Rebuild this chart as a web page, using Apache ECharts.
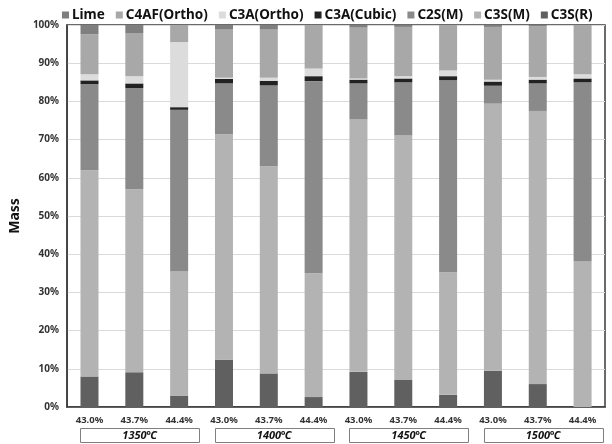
<!DOCTYPE html>
<html>
<head>
<meta charset="utf-8">
<script src="https://cdn.jsdelivr.net/npm/echarts@6/dist/echarts.min.js"></script>
<style>
  html, body { margin: 0; padding: 0; background: #fff; }
  #chart { width: 612px; height: 444px; }
</style>
</head>
<body>
<div id="chart"></div>
<script>
// Clinker phase composition by firing temperature and CaO content
const temperatures = ['1350℃', '1400℃', '1450℃', '1500℃'];
const contents = ['43.0%', '43.7%', '44.4%'];
const yTicks = [0, 10, 20, 30, 40, 50, 60, 70, 80, 90, 100];

// phase amounts (mass %), one value per bar, left to right
const lime      = [2.4, 2.1, 0.0, 1.2, 1.2, 0.0, 0.7, 0.5, 0.0, 0.5, 0.3, 0.0];
const c4afOrtho = [10.5, 11.3, 4.5, 12.6, 12.6, 11.4, 13.3, 12.9, 11.9, 13.8, 13.3, 12.9];
const c3aOrtho  = [1.6, 1.9, 17.0, 0.3, 0.8, 2.0, 0.3, 0.6, 1.5, 0.5, 0.7, 1.1];
const c3aCubic  = [1.0, 1.2, 0.7, 1.2, 1.2, 1.3, 1.0, 1.0, 1.1, 1.1, 1.0, 1.0];
const c2sM      = [22.5, 26.5, 42.3, 13.3, 21.2, 50.3, 9.4, 13.9, 50.2, 4.7, 7.2, 46.9];
const c3sM      = [54.0, 47.9, 32.5, 59.0, 54.2, 32.4, 66.1, 64.0, 32.1, 69.9, 71.5, 38.1];
const c3sR      = [8.0, 9.1, 3.0, 12.4, 8.8, 2.6, 9.2, 7.1, 3.2, 9.5, 6.0, 0.0];

const categories = [];
temperatures.forEach(t => contents.forEach(c => categories.push(t + '|' + c)));

// stacked bottom to top
const phases = [
  { name: 'C3S(R)',      data: c3sR,      color: '#606060' },
  { name: 'C3S(M)',      data: c3sM,      color: '#b3b3b3' },
  { name: 'C2S(M)',      data: c2sM,      color: '#8a8a8a' },
  { name: 'C3A(Cubic)',  data: c3aCubic,  color: '#222222' },
  { name: 'C3A(Ortho)',  data: c3aOrtho,  color: '#dcdcdc' },
  { name: 'C4AF(Ortho)', data: c4afOrtho, color: '#a8a8a8' },
  { name: 'Lime',        data: lime,      color: '#7f7f7f' }
];
const legendOrder = ['Lime', 'C4AF(Ortho)', 'C3A(Ortho)', 'C3A(Cubic)', 'C2S(M)', 'C3S(M)', 'C3S(R)'];

const chart = echarts.init(document.getElementById('chart'), null, { renderer: 'canvas' });
const font = '"Noto Sans", "DejaVu Sans", sans-serif';

chart.setOption({
  animation: false,
  backgroundColor: '#fff',
  textStyle: { fontFamily: font },
  legend: {
    data: legendOrder,
    top: 3,
    left: 57,
    itemWidth: 7,
    itemHeight: 7,
    itemGap: 11,
    icon: 'rect',
    textStyle: { fontFamily: font, fontWeight: 'bold', fontSize: 13.5, color: '#111', padding: [0, 0, 0, -2] }
  },
  grid: {
    left: 54, right: 7, top: 25, bottom: 37,
    show: true, borderColor: '#3a3a3a', borderWidth: 1.5
  },
  xAxis: {
    type: 'category',
    data: categories,
    axisLine: { show: true, lineStyle: { color: '#3a3a3a', width: 1.5 } },
    axisTick: { show: false },
    axisLabel: {
      margin: 8,
      fontSize: 9.5,
      fontWeight: 'bold',
      color: '#333',
      formatter: v => v.split('|')[1]
    }
  },
  yAxis: {
    type: 'value',
    min: yTicks[0],
    max: yTicks[yTicks.length - 1],
    interval: yTicks[1] - yTicks[0],
    name: 'Mass',
    nameLocation: 'middle',
    nameGap: 34,
    nameRotate: 90,
    nameTextStyle: { fontFamily: font, fontWeight: 'bold', fontSize: 14, color: '#111' },
    axisLine: { show: true, lineStyle: { color: '#3a3a3a', width: 1.5 } },
    axisTick: { show: false },
    splitLine: { lineStyle: { color: '#dadada', width: 1 } },
    axisLabel: {
      margin: 8,
      fontSize: 10,
      fontWeight: 'bold',
      color: '#333',
      formatter: '{value}%'
    }
  },
  series: phases.map(p => ({
    name: p.name,
    type: 'bar',
    stack: 'mass',
    barWidth: 18,
    data: p.data,
    itemStyle: { color: p.color }
  }))
});

// boxed temperature captions beneath each group of three bars
function drawGroupBoxes() {
  const els = [];
  temperatures.forEach((t, g) => {
    const first = chart.convertToPixel({ xAxisIndex: 0 }, g * 3);
    const last = chart.convertToPixel({ xAxisIndex: 0 }, g * 3 + 2);
    const half = (last - first) / 4;
    const x0 = first - half + 13;
    const x1 = last + half - 2;
    els.push({
      type: 'rect',
      shape: { x: Math.round(x0) + 0.5, y: 428.5, width: Math.round(x1 - x0), height: 14 },
      style: { fill: '#fff', stroke: '#7f7f7f', lineWidth: 1 }
    });
    els.push({
      type: 'text',
      x: (x0 + x1) / 2,
      y: 435.5,
      style: {
        text: t,
        fontFamily: font,
        fontSize: 11,
        fontWeight: 'bold',
        fontStyle: 'italic',
        fill: '#111',
        align: 'center',
        verticalAlign: 'middle'
      }
    });
  });
  chart.setOption({ graphic: els });
}
drawGroupBoxes();
</script>
</body>
</html>
